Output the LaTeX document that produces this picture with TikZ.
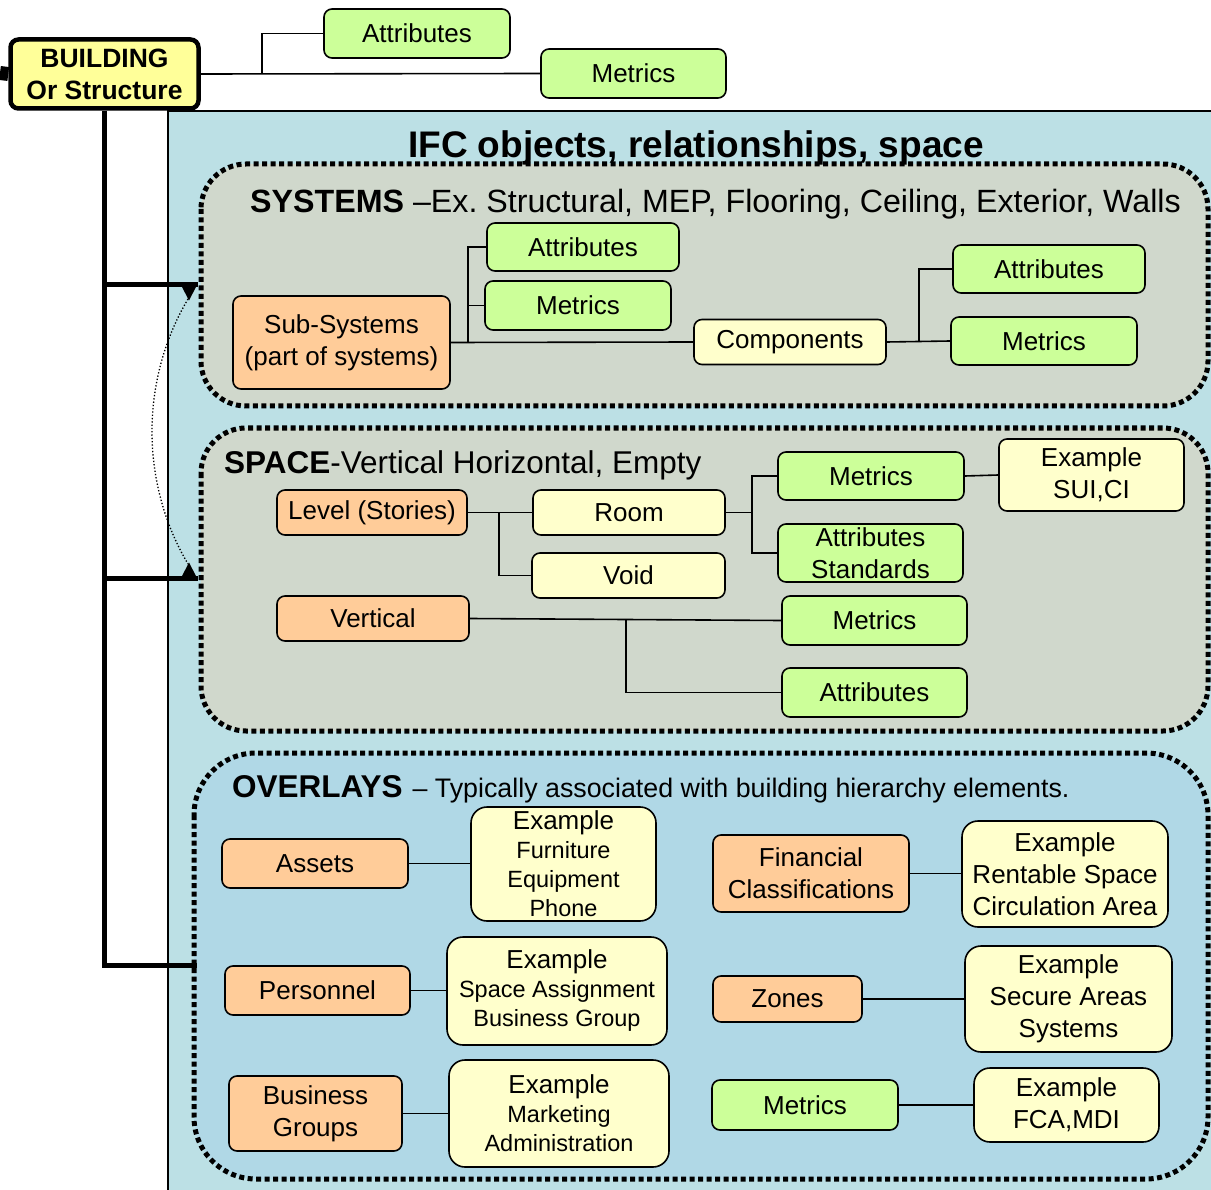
\documentclass[tikz,border=0pt]{standalone}
\usepackage{fontspec}
\setmainfont{Liberation Sans}
\frenchspacing
\definecolor{cgreen}{HTML}{CCFF99}
\definecolor{corange}{HTML}{FFCC99}
\definecolor{cyellow}{HTML}{FFFFCC}
\definecolor{cbuild}{HTML}{FFFF99}
\definecolor{cpanel}{HTML}{BCE0E5}
\definecolor{cgroup}{HTML}{D0D8CC}
\definecolor{coverlay}{HTML}{B0D8E6}
\newcommand\fsn{\fontsize{26}{32}\selectfont}
\newcommand\fss{\fontsize{23.5}{29}\selectfont}
\newcommand\fsb{\bfseries\fontsize{26.5}{32}\selectfont}
\newcommand\fsh{\fontsize{31.5}{36}\selectfont}
\newcommand\fst{\bfseries\fontsize{37}{42}\selectfont}
\begin{document}
\begin{tikzpicture}[x=1pt,y=-1pt,
  box/.style={draw=black, line width=1.6pt, rounded corners=8pt, align=center, inner sep=0pt, font=\fsn},
  grn/.style={box, fill=cgreen},
  org/.style={box, fill=corange},
  yel/.style={box, fill=cyellow},
  exbox/.style={yel, rounded corners=16pt},
  con/.style={draw=black, line width=1.6pt},
  trunk/.style={draw=black, line width=5pt},
  group/.style={line width=5pt, dash pattern=on 5pt off 3.5pt, rounded corners=45pt},
]
\useasboundingbox (0,0) rectangle (1211,1190);

% background panel of the IFC content
\draw[fill=cpanel, line width=1.4pt] (168,111) rectangle (1225,1205);

% grouped areas
\draw[group, fill=cgroup] (201,164) rectangle (1208,406);
\draw[group, fill=cgroup] (201,428) rectangle (1208,731);
\draw[group, fill=coverlay, rounded corners=62pt] (194,753) rectangle (1208,1179);

\node[anchor=base, font=\fst] (ttl) at (696,158) {IFC objects, relationships, space};
\node[anchor=base west, font=\fontsize{32.2}{36}\selectfont, inner sep=0pt] (systt) at (250,213)
  {\bfseries SYSTEMS \mdseries –Ex. Structural, MEP, Flooring, Ceiling, Exterior, Walls};
\node[anchor=base west, font=\fsh, inner sep=0pt] (spctt) at (224,473)
  {\bfseries SPACE\mdseries-Vertical Horizontal, Empty};
\node[anchor=base west, inner sep=0pt, font=\fontsize{26.8}{30}\selectfont] (ovltt) at (232,797)
  {{\fsh\bfseries OVERLAYS}\hspace{10pt}– Typically associated with building hierarchy elements.};

% building node and its own attributes
\node[box, line width=4.5pt, fill=cbuild, minimum width=188pt, minimum height=69pt, font=\fsb] (bld) at (104.5,74) {BUILDING\\Or Structure};
\node[grn, minimum width=186pt, minimum height=49pt] (tattr) at (417,33.5) {Attributes};
\node[grn, minimum width=185pt, minimum height=49pt] (tmet) at (633.5,73.5) {Metrics};
\coordinate (lstub) at (0,73);
\draw[line width=14pt] (lstub) -- (bld.west);
\draw[con] (bld.east) -- (tmet.west);
\draw[con] (262,73) |- (tattr.west);

% trunk from the building into the three groups
\coordinate (sysJ) at (198,285);
\coordinate (spcJ) at (198,578);
\coordinate (ovlJ) at (197,965);
\draw[trunk] (bld.south) |- (ovlJ);
\draw[trunk] (bld.south |- sysJ) -- (sysJ);
\draw[trunk] (bld.south |- spcJ) -- (spcJ);
\coordinate (ca1) at (188,299);
\coordinate (ca2) at (188,564);
\draw[line width=1.3pt, dash pattern=on 1.3pt off 2pt] (ca1) .. controls (140,380) and (140,483) .. (ca2);
\fill (181.5,286) -- (196.5,286) -- (189,300.5) -- cycle;
\fill (181.5,577) -- (196.5,577) -- (189,562.5) -- cycle;

% SYSTEMS
\node[org, minimum width=217pt, minimum height=93pt] (sub) at (341.5,342.5) {Sub-Systems\\(part of systems)};
\node[grn, minimum width=192pt, minimum height=48pt] (sattr) at (583,247) {Attributes};
\node[grn, minimum width=186pt, minimum height=49pt] (smet) at (578,305.5) {Metrics};
\node[yel, minimum width=192pt, minimum height=45pt] (comp) at (790,342) {Components};
\node[grn, minimum width=192pt, minimum height=48pt] (cattr) at (1049,269) {Attributes};
\node[grn, minimum width=186pt, minimum height=48pt] (cmet) at (1044,341) {Metrics};
\draw[con] (sub.east) -- (comp.west);
\draw[con] ([xshift=17pt]sub.east) |- (sattr.west);
\draw[con] ([xshift=17pt]sub.east) |- (smet.west);
\draw[con] (comp.east) -- (cmet.west);
\draw[con] ([xshift=32pt]comp.east) |- (cattr.west);

% SPACE
\node[org, minimum width=190pt, minimum height=45pt] (level) at (372,512.5) {Level (Stories)};
\node[yel, minimum width=192pt, minimum height=45pt] (room) at (629,512.5) {Room};
\node[yel, minimum width=193pt, minimum height=45pt] (void) at (628.5,575.5) {Void};
\node[grn, minimum width=186pt, minimum height=48pt] (rmet) at (871,476) {Metrics};
\node[grn, minimum width=185pt, minimum height=58pt] (rattr) at (870.5,553) {Attributes\\Standards};
\node[yel, minimum width=185pt, minimum height=72pt] (sui) at (1091.5,475) {Example\\SUI,CI};
\node[org, minimum width=192pt, minimum height=45pt] (vert) at (373,618.5) {Vertical};
\node[grn, minimum width=185pt, minimum height=49pt] (vmet) at (874.5,620.5) {Metrics};
\node[grn, minimum width=185pt, minimum height=49pt] (vattr) at (874.5,692.5) {Attributes};
\draw[con] (level.east) -- (room.west);
\draw[con] ([xshift=31pt]level.east) |- (void.west);
\draw[con] (room.east) -- ++(26,0) coordinate (rj);
\draw[con] (rj) |- (rmet.west);
\draw[con] (rj) |- (rattr.west);
\draw[con] (rmet.east) -- (sui.west);
\draw[con] (vert.east) -- (vmet.west);
\draw[con] (626,620) |- (vattr.west);

% OVERLAYS
\node[org, minimum width=186pt, minimum height=49pt] (assets) at (315,863.5) {Assets};
\node[exbox, minimum width=185pt, minimum height=114pt, font=\fss] (exfurn) at (563.5,864) {{\fsn Example}\\Furniture\\Equipment\\Phone};
\node[org, minimum width=185pt, minimum height=49pt] (pers) at (317.5,990.5) {Personnel};
\node[exbox, minimum width=220pt, minimum height=108pt, font=\fss] (exspace) at (557,991) {{\fsn Example}\\Space Assignment\\Business Group};
\node[org, minimum width=173pt, minimum height=75pt] (bgrp) at (315.5,1113.5) {Business\\Groups};
\node[exbox, minimum width=220pt, minimum height=107pt, font=\fss] (exmkt) at (559,1113.5) {{\fsn Example}\\Marketing\\Administration};
\node[org, minimum width=196pt, minimum height=77pt] (fin) at (811,873.5) {Financial\\Classifications};
\node[exbox, minimum width=206pt, minimum height=106pt] (exrent) at (1065,874) {Example\\Rentable Space\\Circulation Area};
\node[org, minimum width=149pt, minimum height=46pt] (zones) at (787.5,999) {Zones};
\node[exbox, minimum width=207pt, minimum height=106pt] (exsec) at (1068.5,999) {Example\\Secure Areas\\Systems};
\node[grn, minimum width=186pt, minimum height=50pt] (omet) at (805,1105) {Metrics};
\node[exbox, minimum width=185pt, minimum height=74pt] (exfca) at (1066.5,1105) {Example\\FCA,MDI};
\draw[con] (assets.east) -- (assets.east -| exfurn.west);
\draw[con] (pers.east) -- (pers.east -| exspace.west);
\draw[con] (bgrp.east) -- (bgrp.east -| exmkt.west);
\draw[con] (fin.east) -- (fin.east -| exrent.west);
\draw[con] (zones.east) -- (zones.east -| exsec.west);
\draw[con] (omet.east) -- (omet.east -| exfca.west);
\end{tikzpicture}
\end{document}
